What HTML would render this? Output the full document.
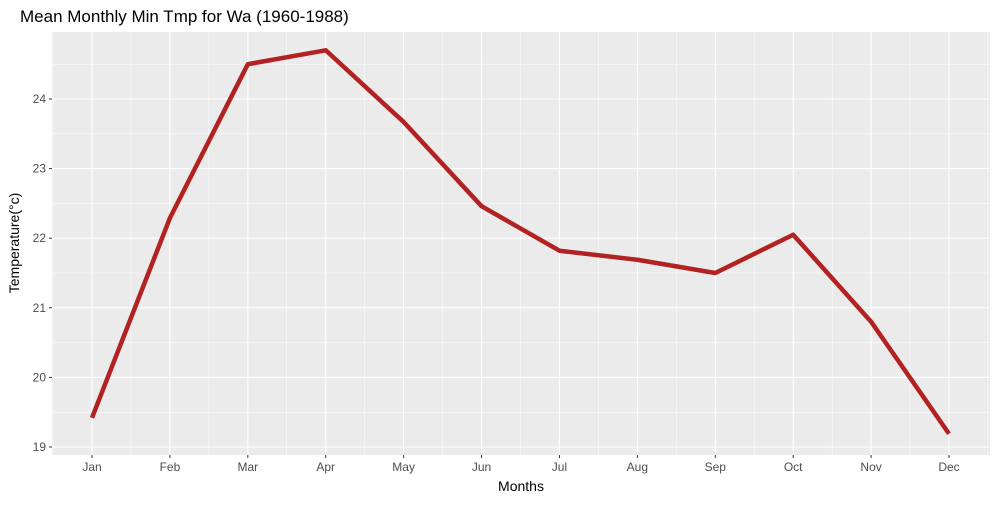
<!DOCTYPE html>
<html><head><meta charset="utf-8"><style>
body{margin:0;background:#fff}
svg text{font-family:"Liberation Sans",sans-serif}
</style></head><body>
<svg id="chart" width="1000" height="500" xmlns="http://www.w3.org/2000/svg">
<text x="20" y="22" font-size="17" fill="#000">Mean Monthly Min Tmp for Wa (1960-1988)</text>
<rect x="52" y="32" width="938" height="423" fill="#ebebeb"/>
<g id="grid"></g>
<g id="axes"></g>
<path id="line" fill="none" stroke="#b22222" stroke-width="4.5" stroke-linejoin="round"/>
<text x="521" y="491" font-size="14" text-anchor="middle">Months</text>
<text transform="translate(19,243) rotate(-90)" font-size="14" text-anchor="middle">Temperature(°c)</text>
</svg>
<script>
const months=["Jan","Feb","Mar","Apr","May","Jun","Jul","Aug","Sep","Oct","Nov","Dec"];
const temps=[19.42,22.29,24.50,24.70,23.67,22.46,21.82,21.69,21.50,22.05,20.80,19.19];
const yTicks=[19,20,21,22,23,24];
const NS="http://www.w3.org/2000/svg";
const x=i=>92+i*(949-92)/11;
const y=v=>447-(v-19)*69.6;
const grid=document.getElementById('grid'),axes=document.getElementById('axes');
function ln(p,x1,y1,x2,y2,w){const l=document.createElementNS(NS,'line');l.setAttribute('x1',x1);l.setAttribute('y1',y1);l.setAttribute('x2',x2);l.setAttribute('y2',y2);l.setAttribute('stroke','#fff');l.setAttribute('stroke-width',w);p.appendChild(l);return l;}
for(let v=18.5;v<=25;v+=0.5){const yy=y(v);if(yy<32||yy>455)continue;const l=ln(grid,52,yy,990,yy,v%1===0?1.1:0.5);

}
for(let i=-0.5;i<=11.5;i+=0.5){const xx=x(i);if(xx<52||xx>990)continue;const l=ln(grid,xx,32,xx,455,i%1===0?1.1:0.5);

}
yTicks.forEach(v=>{const t=document.createElementNS(NS,'text');t.setAttribute('x',46);t.setAttribute('y',y(v)+4);t.setAttribute('font-size',12);t.setAttribute('fill','#4d4d4d');t.setAttribute('text-anchor','end');t.textContent=v;


axes.appendChild(t);
const k=ln(axes,49,y(v),52,y(v),1);k.setAttribute('stroke','#333');});
months.forEach((m,i)=>{const t=document.createElementNS(NS,'text');t.setAttribute('x',x(i));t.setAttribute('y',471);t.setAttribute('font-size',12);t.setAttribute('fill','#4d4d4d');t.setAttribute('text-anchor','middle');t.textContent=m;


axes.appendChild(t);
const k=ln(axes,x(i),455,x(i),458,1);k.setAttribute('stroke','#333');});
document.getElementById('line').setAttribute('d',temps.map((v,i)=>(i?'L':'M')+x(i)+','+y(v)).join(''));
</script>
</body></html>
